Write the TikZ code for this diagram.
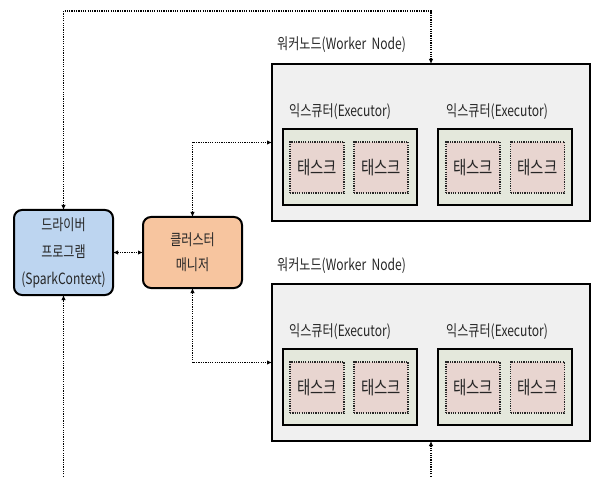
\documentclass[tikz,border=0pt]{standalone}
\usepackage{fontspec}
\setmainfont[FakeStretch=0.78]{Noto Sans CJK KR}
\usetikzlibrary{arrows.meta,calc}
\definecolor{drvfill}{HTML}{BDD5F0}
\definecolor{cmfill}{HTML}{F7C59F}
\definecolor{wkfill}{HTML}{F0F0F0}
\definecolor{exfill}{HTML}{E4E8DC}
\definecolor{tkfill}{HTML}{E8D5D0}
\definecolor{txt}{HTML}{262626}
\begin{document}
\begin{tikzpicture}[x=1pt,y=-1pt,
  rbox/.style={draw=black, line width=2pt, rounded corners=8pt, inner sep=0pt, outer sep=0pt, align=center, text=txt, font=\fontsize{15.5}{27}\selectfont},
  sbox/.style={draw=black, line width=2.4pt, inner sep=0pt, outer sep=0pt},
  tbox/.style={draw=black!85, line width=1.3pt, dash pattern=on 1.2pt off 1.1pt, fill=tkfill, inner sep=0pt, outer sep=0pt, minimum width=54pt, minimum height=51pt, text=txt, font=\fontsize{18.5}{21}\selectfont},
  lbl/.style={anchor=west, inner sep=0pt, text=txt, font=\fontsize{15.5}{18}\selectfont},
  conn/.style={line width=1.3pt, dash pattern=on 1.2pt off 1.1pt, arrows={-}},
  tip/.tip={Latex[length=5pt,width=4.5pt]}
]
\useasboundingbox (0,0) rectangle (591,478);

% driver and cluster manager
\node[rbox, fill=drvfill, minimum width=99pt, minimum height=85pt] (driver) at (63.5,252.5) {드라이버\\프로그램\\(SparkContext)};
\node[rbox, fill=cmfill, minimum width=99pt, minimum height=71pt, font=\fontsize{15.5}{25}\selectfont] (cm) at (192.5,252.5) {클러스터\\매니저};

% worker node 1
\node[lbl] (w1l) at (277,45) {워커노드(Worker\ \ Node)};
\node[sbox, fill=wkfill, minimum width=318pt, minimum height=157pt] (w1) at (431,142.5) {};
\node[lbl] (e11l) at (289,112) {익스큐터(Executor)};
\node[lbl] (e12l) at (446,112) {익스큐터(Executor)};
\node[sbox, fill=exfill, minimum width=134pt, minimum height=76pt] (e11) at (350,167) {};
\node[sbox, fill=exfill, minimum width=134pt, minimum height=76pt] (e12) at (505,167) {};
\node[tbox] (t111) at (317,167.5) {태스크};
\node[tbox] (t112) at (381,167.5) {태스크};
\node[tbox] (t121) at (473,167.5) {태스크};
\node[tbox] (t122) at (537.5,167.5) {태스크};

% worker node 2
\node[lbl] (w2l) at (277,266) {워커노드(Worker\ \ Node)};
\node[sbox, fill=wkfill, minimum width=318pt, minimum height=157pt] (w2) at (431,362.5) {};
\node[lbl] (e21l) at (289,332) {익스큐터(Executor)};
\node[lbl] (e22l) at (446,332) {익스큐터(Executor)};
\node[sbox, fill=exfill, minimum width=134pt, minimum height=76pt] (e21) at (350,387) {};
\node[sbox, fill=exfill, minimum width=134pt, minimum height=76pt] (e22) at (505,387) {};
\node[tbox] (t211) at (317,387.5) {태스크};
\node[tbox] (t212) at (381,387.5) {태스크};
\node[tbox] (t221) at (473,387.5) {태스크};
\node[tbox] (t222) at (537.5,387.5) {태스크};

% helper coordinates
\coordinate (top) at (0,11);
\coordinate (bot) at (0,479);

% connectors
\draw[conn, tip-tip] (driver.north) -- (driver.north |- top) -- (w1.north |- top) -- (w1.north);
\draw[conn, -tip] (driver.south |- bot) -- (driver.south);
\draw[conn, -tip] (w2.south |- bot) -- (w2.south);
\draw[conn, tip-tip] (driver.east) -- (cm.west);
\draw[conn, tip-tip] (cm.north) |- (w1.west);
\draw[conn, tip-tip] (cm.south) |- (w2.west);
\end{tikzpicture}
\end{document}
